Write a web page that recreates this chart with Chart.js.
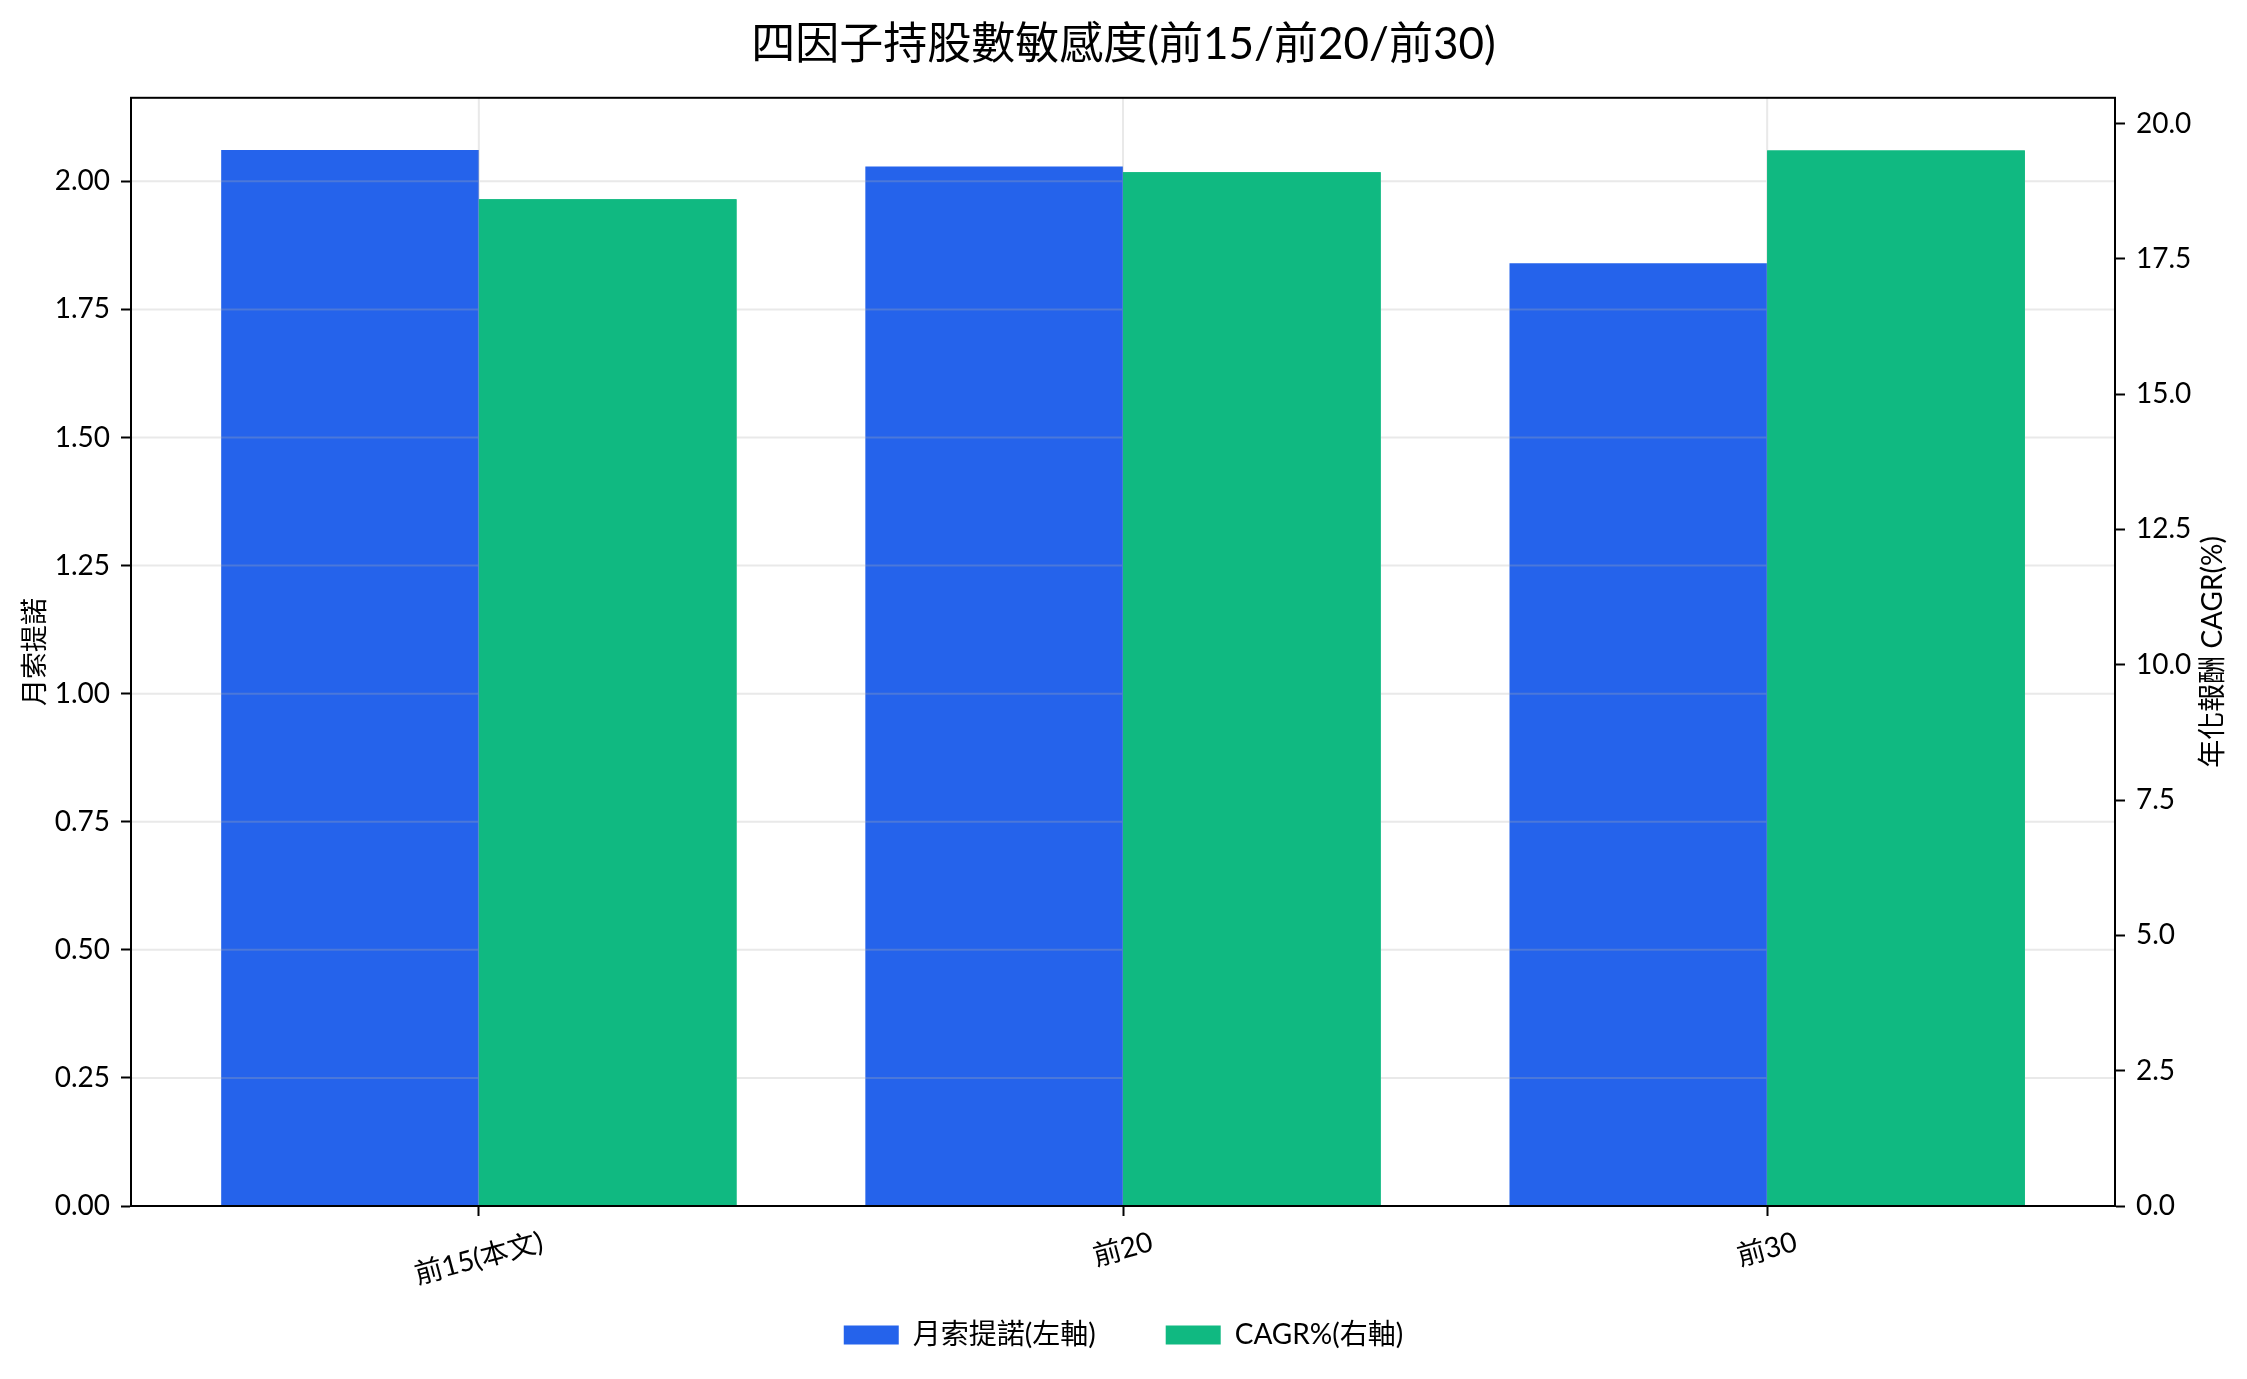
<!DOCTYPE html>
<html>
<head>
<meta charset="utf-8">
<script src="https://cdn.jsdelivr.net/npm/chart.js@4.4.1/dist/chart.umd.min.js"></script>
<style>
  html, body { margin: 0; padding: 0; background: #fff; }
  canvas { display: block; }
</style>
</head>
<body>
<canvas id="sensChart" width="2247" height="1379"></canvas>
<script>
const FONT = "Lato, 'Noto Sans CJK TC', sans-serif";

// data
const categories = ['前15(本文)', '前20', '前30'];
const sortinoValues = [2.061, 2.029, 1.840];
const cagrValues = [18.60, 19.10, 19.50];
const seriesLabels = ['月索提諾(左軸)', 'CAGR%(右軸)'];
const leftTitle = '月索提諾';
const rightTitle = '年化報酬 CAGR(%)';
const chartTitle = '四因子持股數敏感度(前15/前20/前30)';

const BLUE = '#2563eb';
const GREEN = '#10b981';
const GRID = 'rgba(176,176,176,0.28)';

Chart.defaults.font.family = FONT;
Chart.defaults.color = '#000';

// grid goes over the left-axis bars, then the right-axis bars are drawn again on top
const gridPlugin = {
  id: 'gridOverBlue',
  afterDatasetsDraw(chart) {
    const { ctx, chartArea, scales } = chart;
    ctx.save();
    ctx.strokeStyle = GRID;
    ctx.lineWidth = 2;
    ctx.beginPath();
    scales.y.ticks.forEach(t => {
      const py = scales.y.getPixelForValue(t.value);
      ctx.moveTo(chartArea.left, py);
      ctx.lineTo(chartArea.right, py);
    });
    scales.x.ticks.forEach(t => {
      const px = scales.x.getPixelForValue(t.value);
      ctx.moveTo(px, chartArea.top);
      ctx.lineTo(px, chartArea.bottom);
    });
    ctx.stroke();
    ctx.restore();
    chart.getDatasetMeta(1).controller.draw();
  }
};

// rotated, centred category labels, the right axis title and the top spine
const labelPlugin = {
  id: 'extraText',
  afterDraw(chart) {
    const { ctx, chartArea, scales } = chart;
    const x = scales.x;
    const ang = 15 * Math.PI / 180;
    ctx.save();
    ctx.fillStyle = '#000';
    ctx.font = '28px ' + FONT;
    ctx.textAlign = 'center';
    ctx.textBaseline = 'middle';
    x.ticks.forEach(t => {
      const label = categories[t.value];
      const w = ctx.measureText(label).width;
      const bh = w * Math.sin(ang) + 28 * Math.cos(ang);
      ctx.save();
      ctx.translate(x.getPixelForValue(t.value), x.top + 22 + bh / 2);
      ctx.rotate(-ang);
      ctx.fillText(label, 0, 0);
      ctx.restore();
    });

    ctx.save();
    ctx.translate(2213, (chartArea.top + chartArea.bottom) / 2);
    ctx.rotate(-Math.PI / 2);
    ctx.fillText(rightTitle, 0, 0);
    ctx.restore();

    ctx.strokeStyle = '#000';
    ctx.lineWidth = 2;
    ctx.strokeRect(chartArea.left, chartArea.top, chartArea.right - chartArea.left, chartArea.bottom - chartArea.top);
    ctx.restore();
  }
};

const ctx = document.getElementById('sensChart').getContext('2d');
new Chart(ctx, {
  type: 'bar',
  data: {
    datasets: [
      {
        label: seriesLabels[0],
        data: sortinoValues.map((v, i) => ({ x: i, y: v })),
        backgroundColor: BLUE,
        borderWidth: 0,
        yAxisID: 'y',
      },
      {
        label: seriesLabels[1],
        data: cagrValues.map((v, i) => ({ x: i, y: v })),
        backgroundColor: GREEN,
        borderWidth: 0,
        yAxisID: 'y1',
      },
    ],
  },
  options: {
    responsive: false,
    devicePixelRatio: 1,
    animation: false,
    categoryPercentage: 0.8,
    barPercentage: 1.0,
    layout: { padding: { left: 0, right: 0, top: 0, bottom: 20 } },
    scales: {
      x: {
        type: 'linear',
        min: -0.54,
        max: 2.54,
        offset: false,
        afterBuildTicks: axis => { axis.ticks = categories.map((c, i) => ({ value: i })); },
        afterFit: scale => { scale.height = 45; },
        ticks: { display: false },
        grid: { offset: false, drawOnChartArea: false, tickLength: 10, tickColor: '#000', tickWidth: 2 },
        border: { display: true, color: '#000', width: 2 },
      },
      y: {
        position: 'left',
        min: 0,
        max: 2.163,
        afterFit: scale => { scale.width = 131; },
        ticks: {
          stepSize: 0.25,
          includeBounds: false,
          padding: 11,
          font: { size: 28 },
          callback: v => v.toFixed(2),
        },
        grid: { drawOnChartArea: false, tickLength: 10, tickColor: '#000', tickWidth: 2 },
        border: { display: true, color: '#000', width: 2 },
        title: { display: true, text: leftTitle, font: { size: 27 }, padding: { top: 19, bottom: 0 } },
      },
      y1: {
        position: 'right',
        min: 0,
        max: 20.475,
        afterFit: scale => { scale.width = 132; },
        ticks: {
          stepSize: 2.5,
          includeBounds: false,
          padding: 11,
          font: { size: 28 },
          callback: v => v.toFixed(1),
        },
        grid: { drawOnChartArea: false, tickLength: 10, tickColor: '#000', tickWidth: 2 },
        border: { display: true, color: '#000', width: 2 },
      },
    },
    plugins: {
      title: {
        display: true,
        text: chartTitle,
        font: { size: 44, weight: 'normal' },
        padding: { top: 18, bottom: 27 },
      },
      legend: {
        display: true,
        position: 'bottom',
        labels: {
          boxWidth: 55,
          boxHeight: 19,
          padding: 70,
          font: { size: 28 },
        },
      },
      tooltip: { enabled: false },
    },
  },
  plugins: [gridPlugin, labelPlugin],
});
</script>
</body>
</html>
